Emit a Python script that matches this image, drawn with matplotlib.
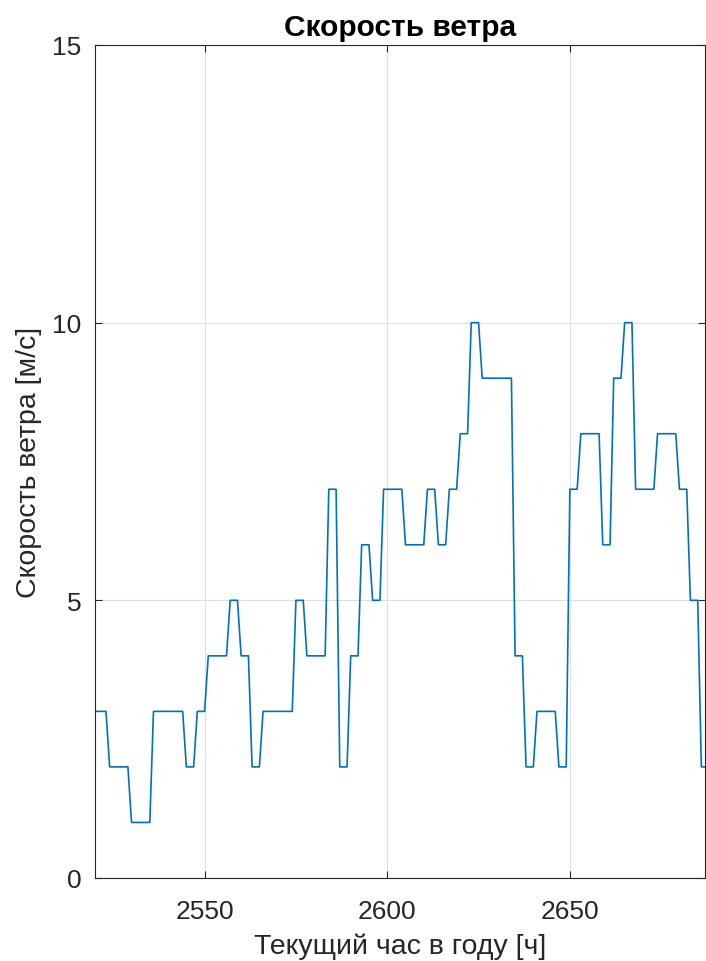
import matplotlib
matplotlib.use("Agg")
import matplotlib.pyplot as plt
import numpy as np

plt.rcParams['font.family'] = ['Liberation Sans', 'DejaVu Sans']

# hourly wind speed, run-length encoded: (value, number of hours), starting at hour 2520
start_hour = 2520
levels = [3, 2, 1, 3, 2, 3, 4, 5, 4, 2, 3, 5, 4, 7, 2, 4, 6, 5, 7, 6,
          7, 6, 7, 8, 10, 9, 4, 2, 3, 2, 7, 8, 6, 9, 10, 7, 8, 7, 5, 2]
runs = [4, 6, 6, 9, 3, 3, 6, 3, 3, 3, 9, 3, 6, 3, 3, 3, 3, 3, 6, 6,
        3, 3, 3, 3, 3, 9, 3, 3, 6, 3, 3, 6, 3, 3, 3, 6, 6, 3, 3, 3]

xticks = [2550, 2600, 2650]
yticks = [0, 5, 10, 15]

speed = np.repeat(levels, runs)
hours = start_hour + np.arange(len(speed))

fig = plt.figure(figsize=(7.06, 9.62), dpi=100)
ax = fig.add_axes([0.1346, 0.0863, 0.864, 0.8659])

ax.plot(hours, speed, color='#0072BD', linewidth=1.2)

ax.set_xlim(2520, 2687)
ax.set_ylim(0, 15)
ax.set_xticks(xticks)
ax.set_yticks(yticks)

dark = '#262626'
ax.grid(True, color='#dfdfdf', linewidth=0.8)
ax.set_axisbelow(True)
for s in ax.spines.values():
    s.set_color(dark)
    s.set_linewidth(0.8)
ax.tick_params(direction='in', length=5, width=0.8, colors=dark,
               labelsize=19, top=True, right=True)
ax.tick_params(axis='x', pad=15)
ax.tick_params(axis='y', pad=10)

ax.set_title('Скорость ветра', fontsize=21.5, fontweight='bold', color='black', pad=7)
ax.set_xlabel('Текущий час в году [ч]', fontsize=20.5, color=dark, labelpad=7)
ax.set_ylabel('Скорость ветра [м/с]', fontsize=20.5, color=dark, labelpad=7)

fig.savefig('out.png', dpi=100)
